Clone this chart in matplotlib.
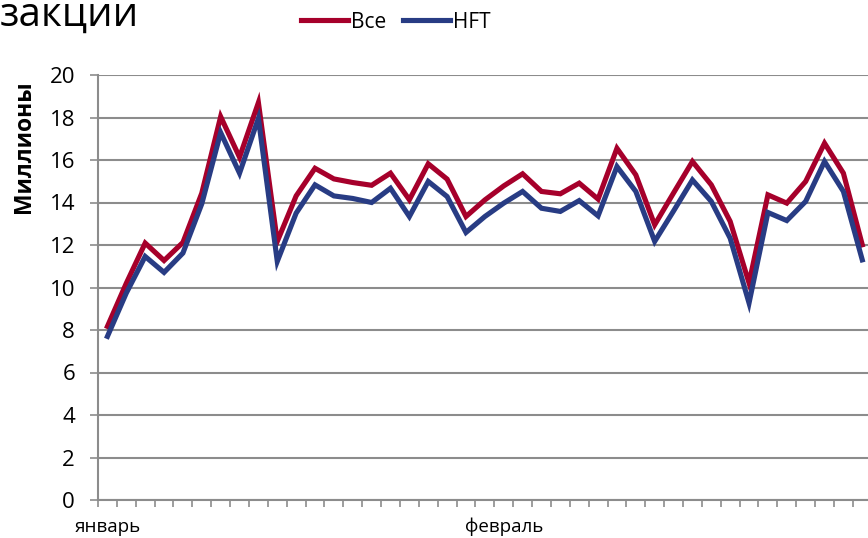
import matplotlib
matplotlib.use("Agg")
import matplotlib.pyplot as plt
import matplotlib.transforms as mtransforms
import numpy as np

plt.rcParams['font.family'] = ['Open Sans', 'DejaVu Sans']

# --- data (millions of transactions per trading day) ---
vse = [8.17, 10.2, 12.09, 11.27, 12.12, 14.44, 18.04, 16.13, 18.70, 12.17,
       14.31, 15.61, 15.11, 14.94, 14.81, 15.38, 14.13, 15.82, 15.10, 13.34,
       14.12, 14.78, 15.35, 14.52, 14.41, 14.91, 14.16, 16.55, 15.30, 12.95,
       14.45, 15.93, 14.83, 13.11, 10.21, 14.36, 13.97, 14.99, 16.79, 15.38,
       12.01]
hft = [7.70, 9.74, 11.46, 10.71, 11.62, 13.94, 17.29, 15.38, 17.96, 11.23,
       13.50, 14.83, 14.31, 14.19, 14.00, 14.67, 13.34, 14.99, 14.28, 12.59,
       13.34, 13.97, 14.52, 13.73, 13.58, 14.09, 13.37, 15.69, 14.52, 12.17,
       13.60, 15.06, 14.05, 12.32, 9.27, 13.53, 13.15, 14.05, 15.93, 14.52,
       11.30]
months = ["январь", "февраль"]
month_pos = [0, 21]
series_names = ["Все", "HFT"]
yticks = [0, 2, 4, 6, 8, 10, 12, 14, 16, 18, 20]

W, H = 868, 538
fig = plt.figure(figsize=(W / 100, H / 100), dpi=100)
left, right, top, bottom = 98, 871.7, 75, 500
ax = fig.add_axes([left / W, (H - bottom) / H, (right - left) / W, (bottom - top) / H])

x = np.arange(len(vse))
red = '#A6002B'
blue = '#283C84'
grid = '#8C8C8C'

ax.plot(x, vse, color=red, lw=3.7, solid_joinstyle='miter', label=series_names[0], zorder=3)
ax.plot(x, hft, color=blue, lw=3.7, solid_joinstyle='miter', label=series_names[1], zorder=4)

ax.set_xlim(-0.5, len(vse) - 0.5)
ax.set_ylim(0, 20)
ax.set_yticks(yticks)
ax.set_yticklabels([str(t) for t in yticks])
ax.yaxis.grid(True, color=grid, lw=1.5)
ax.set_axisbelow(True)

ax.set_xticks(np.arange(-0.5, len(vse), 1))
ax.set_xticklabels([])
ax.tick_params(axis='x', direction='out', length=5, width=1.2, color=grid)
ax.tick_params(axis='y', direction='out', length=5.5, width=1.2, color=grid,
               labelsize=16, pad=11)

for s in ['top', 'right']:
    ax.spines[s].set_visible(False)
for s in ['left', 'bottom']:
    ax.spines[s].set_color(grid)
    ax.spines[s].set_linewidth(1.5)

month_tr = mtransforms.blended_transform_factory(ax.transData, fig.transFigure)
for m, p in zip(months, month_pos):
    ax.text(p, 1 - 527 / H, m, transform=month_tr, ha='center', va='center', fontsize=13.5)

fig.text(24 / W, 1 - 147 / H, "Миллионы", rotation=90, ha='center', va='center',
         fontsize=16.5, fontweight='bold')

fig.text(0 / W, 1 - 16 / H, "закции", ha='left', va='center', fontsize=29)

leg = fig.legend(handles=ax.get_lines(), labels=series_names, loc='center',
                 bbox_to_anchor=(396 / W, 1 - 22 / H), ncol=2, frameon=False,
                 fontsize=15, handlelength=2.25, handletextpad=0.15, columnspacing=0.8)

fig.savefig("out.png", dpi=100)
